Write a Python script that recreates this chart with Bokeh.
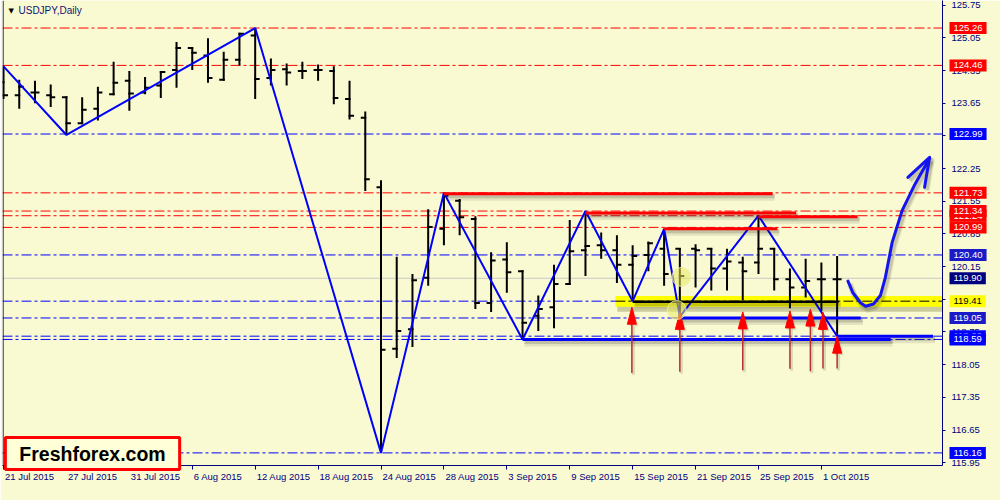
from bokeh.plotting import figure
from bokeh.models import FixedTicker, PrintfTickFormatter, Label, Span
from bokeh.embed import file_html
from bokeh.resources import INLINE

# ---------------- data ----------------
dates = ["2015-07-21", "2015-07-22", "2015-07-23", "2015-07-24", "2015-07-27", "2015-07-28",
         "2015-07-29", "2015-07-30", "2015-07-31", "2015-08-03", "2015-08-04", "2015-08-05",
         "2015-08-06", "2015-08-07", "2015-08-10", "2015-08-11", "2015-08-12", "2015-08-13",
         "2015-08-14", "2015-08-17", "2015-08-18", "2015-08-19", "2015-08-20", "2015-08-21",
         "2015-08-24", "2015-08-25", "2015-08-26", "2015-08-27", "2015-08-28", "2015-08-31",
         "2015-09-01", "2015-09-02", "2015-09-03", "2015-09-04", "2015-09-07", "2015-09-08",
         "2015-09-09", "2015-09-10", "2015-09-11", "2015-09-14", "2015-09-15", "2015-09-16",
         "2015-09-17", "2015-09-18", "2015-09-21", "2015-09-22", "2015-09-23", "2015-09-24",
         "2015-09-25", "2015-09-28", "2015-09-29", "2015-09-30", "2015-10-01", "2015-10-02"]

opens = [124.10, 123.82, 123.88, 123.82, 123.78, 123.22, 123.53, 123.84, 124.13, 123.88,
         124.03, 124.36, 124.83, 124.67, 124.15, 124.58, 125.10, 124.19, 124.38, 124.34,
         124.36, 124.34, 123.74, 123.34, 121.85, 118.39, 118.81, 119.91, 120.96, 121.56,
         121.17, 119.37, 120.30, 120.05, 119.10, 119.28, 119.78, 120.50, 120.61, 120.50,
         120.19, 120.40, 120.53, 120.53, 120.53, 120.53, 120.11, 120.24, 120.24, 120.53,
         119.88, 119.70, 119.88, 119.88]
highs = [124.44, 124.15, 124.13, 124.05, 123.80, 123.78, 124.00, 124.54, 124.34, 124.21,
         124.34, 124.96, 124.85, 125.04, 124.75, 125.16, 125.26, 124.61, 124.50, 124.54,
         124.48, 124.44, 124.13, 123.47, 122.00, 120.36, 119.99, 121.38, 121.73, 121.60,
         121.23, 120.46, 120.67, 120.07, 119.53, 120.19, 121.15, 121.34, 120.88, 120.82,
         120.61, 120.69, 120.96, 120.55, 120.63, 120.55, 120.53, 120.36, 121.24, 120.55,
         120.11, 120.32, 120.24, 120.38]
lows = [123.74, 123.53, 123.65, 123.57, 122.97, 123.20, 123.28, 123.82, 123.49, 123.84,
        123.76, 123.98, 124.36, 124.09, 124.13, 124.46, 123.74, 124.03, 124.03, 124.17,
        124.13, 123.63, 123.30, 121.77, 116.16, 118.19, 118.43, 119.74, 120.61, 120.82,
        119.24, 119.18, 119.59, 118.59, 118.77, 118.83, 119.76, 119.95, 120.32, 119.80,
        119.41, 120.05, 119.74, 119.08, 119.70, 119.64, 119.64, 119.43, 119.99, 119.64,
        119.26, 119.49, 119.20, 118.66]
closes = [123.82, 124.00, 123.88, 123.78, 123.22, 123.51, 123.88, 124.09, 123.86, 123.98,
          124.32, 124.83, 124.73, 124.19, 124.58, 125.14, 124.17, 124.36, 124.31, 124.34,
          124.36, 123.76, 123.38, 122.02, 118.37, 118.77, 119.86, 121.00, 121.67, 121.21,
          119.37, 120.28, 120.03, 118.95, 119.24, 119.78, 120.48, 120.59, 120.50, 120.19,
          120.38, 120.65, 119.99, 119.95, 120.50, 120.11, 120.26, 120.05, 120.53, 119.88,
          119.70, 119.84, 119.88, 119.88]

tick_bars = [0, 4, 8, 12, 16, 20, 24, 28, 32, 36, 40, 44, 48, 52]
tick_labels = ["21 Jul 2015", "27 Jul 2015", "31 Jul 2015", "6 Aug 2015", "12 Aug 2015",
               "18 Aug 2015", "24 Aug 2015", "28 Aug 2015", "3 Sep 2015", "9 Sep 2015",
               "15 Sep 2015", "21 Sep 2015", "25 Sep 2015", "1 Oct 2015"]
price_ticks = [115.95, 116.65, 117.35, 118.05, 118.75, 119.45, 120.15, 120.85,
               121.55, 122.25, 122.95, 123.65, 124.35, 125.05, 125.75]

level_prices = [125.26, 124.46, 122.99, 121.73, 121.24, 121.34, 120.99, 120.40,
                119.90, 119.41, 119.05, 118.66, 118.59, 116.16]
level_kinds = ["res", "res", "sup", "res", "res", "res", "res", "sup2",
               "bid", "band", "sup2", "sup", "sup", "sup"]

zz_bars = [0, 4, 16, 24, 28, 33, 37, 40, 42, 43, 48, 53]
zz_prices = [124.44, 122.97, 125.26, 116.16, 121.73, 118.59, 121.34, 119.41, 120.96, 119.08, 121.24, 118.66]

red_start = [28, 37, 48, 42]
red_end = [48.9, 50.4, 54.3, 49.2]
red_price = [121.71, 121.30, 121.22, 120.96]

blue_start = [33, 53, 43]
blue_end = [56.4, 59.1, 54.5]
blue_price = [118.59, 118.66, 119.05]

black_start = [40]
black_end = [53.1]
black_price = [119.40]

band_start = 38.9
band_low = 119.29
band_high = 119.52

arrow_bars = [39.95, 43.0, 47.0, 50.0, 51.3, 52.1, 53.0]
arrow_tips = [119.28, 119.17, 119.18, 119.20, 119.24, 119.17, 118.66]
arrow_bases = [117.87, 117.90, 117.93, 117.96, 117.91, 117.97, 117.97]

fc_bars = [53.69, 54.0, 54.5, 54.81, 55.31, 55.75, 56.06, 56.5, 57.13, 57.94, 58.88]
fc_prices = [119.84, 119.59, 119.37, 119.30, 119.35, 119.53, 119.91, 120.67, 121.35, 121.91, 122.47]
fc_head_bars = [57.5, 58.88, 58.56]
fc_head_prices = [122.06, 122.49, 121.85]

mark_bars = [43.1, 42.8]
mark_prices = [119.93, 119.22]

# ---------------- geometry / style ----------------
BG = "#FAFAD2"
NAVY = "#000080"
FONT = "Liberation Sans"
FRAME_W, FRAME_H = 940, 465
X_START, X_END = -0.065, 59.70
Y_START, Y_END = 115.89, 125.85
PXX = FRAME_W / (X_END - X_START)
PXY = FRAME_H / (Y_END - Y_START)


def dx(px):
    return px / PXX


def dy(px):
    return px / PXY


p = figure(frame_width=FRAME_W, frame_height=FRAME_H,
           x_range=(X_START, X_END), y_range=(Y_START, Y_END),
           output_backend="svg", toolbar_location=None,
           y_axis_location="right", x_axis_location="below",
           min_border_left=2, min_border_right=42, min_border_top=0, min_border_bottom=19,
           background_fill_color=BG, border_fill_color=BG, outline_line_color=None)
p.grid.visible = False

# x axis: minor ticks at bar dates, labels left-aligned via centre positions
cw = {"0": .556, "1": .556, "2": .556, "3": .556, "4": .556, "5": .556, "6": .556, "7": .556,
      "8": .556, "9": .556, " ": .278, "J": .5, "u": .556, "l": .222, "A": .667, "g": .556,
      "S": .667, "e": .556, "p": .556, "O": .778, "c": .5, "t": .278}
FS = 9.5
centres = []
for b, lab in zip(tick_bars, tick_labels):
    w = sum(cw.get(ch, .556) for ch in lab) * FS
    centres.append(round(b + dx(1.5 + w / 2), 4))
p.xaxis.ticker = FixedTicker(ticks=centres, minor_ticks=tick_bars)
p.xaxis.major_label_overrides = {c: lab for c, lab in zip(centres, tick_labels)}
p.xaxis.major_tick_line_color = None
p.xaxis.major_tick_out = 4
p.xaxis.major_tick_in = 0
p.xaxis.minor_tick_out = 4
p.xaxis.minor_tick_in = 0
p.xaxis.minor_tick_line_color = NAVY
p.xaxis.axis_line_color = NAVY
p.xaxis.major_label_standoff = 1
p.xaxis.major_label_text_font = FONT
p.xaxis.major_label_text_font_size = "9.5px"
p.xaxis.major_label_text_color = NAVY

p.yaxis.ticker = FixedTicker(ticks=price_ticks)
p.yaxis.formatter = PrintfTickFormatter(format="%.2f")
p.yaxis.axis_line_color = NAVY
p.yaxis.major_tick_line_color = NAVY
p.yaxis.major_tick_out = 3
p.yaxis.major_tick_in = 0
p.yaxis.minor_tick_line_color = None
p.yaxis.major_label_standoff = 6
p.yaxis.major_label_text_font = FONT
p.yaxis.major_label_text_font_size = "9.5px"
p.yaxis.major_label_text_color = NAVY

p.add_layout(Span(location=X_START + dx(0.6), dimension="height", line_color=NAVY, line_width=1))

line_style = {"res": ("#FF0000", "10 3 3 3"), "sup": ("#0000FF", "10 3 3 3"),
              "sup2": ("#0000FF", "10 3 3 3"), "band": ("#0000FF", "10 3 3 3"),
              "bid": ("#C8C8C8", "solid")}
label_style = {"res": ("#FF0000", "white"), "sup": ("#0000FF", "white"),
               "sup2": ("#1A1AC8", "white"), "band": ("#FFFF00", "black"),
               "bid": ("#000080", "white")}

# horizontal levels
for pr, k in zip(level_prices, level_kinds):
    col, dash = line_style[k]
    p.segment(X_START, pr, X_END, pr, line_color=col, line_width=1, line_dash=dash)

# yellow band with shadow
p.quad(left=band_start + dx(2), right=X_END + 1, bottom=band_low - dy(5), top=band_high - dy(3),
       fill_color="#404000", fill_alpha=0.25, line_color=None)
p.quad(left=band_start, right=X_END + 1, bottom=band_low, top=band_high,
       fill_color="#FFFF00", line_color=None)
p.segment(band_start, level_prices[9], X_END, level_prices[9], line_color="black",
          line_width=1, line_dash="10 3 3 3")

# OHLC bars
xs = list(range(len(opens)))
tk = dx(4.5)
p.segment(xs, lows, xs, highs, line_color="black", line_width=2)
p.segment([x - tk for x in xs], opens, [x + dx(1) for x in xs], opens, line_color="black", line_width=2)
p.segment([x - dx(1) for x in xs], closes, [x + tk for x in xs], closes, line_color="black", line_width=2)

# zigzag
p.line(zz_bars, zz_prices, line_color="#0000FF", line_width=2)


def shadowed_segments(x0, x1, y, color, width):
    for off, w, a in [(3.5, width + 4, 0.10), (2.5, width + 1, 0.18)]:
        p.segment([v + dx(2) for v in x0], [v - dy(off) for v in y],
                  [v + dx(2) for v in x1], [v - dy(off) for v in y],
                  line_color="#202020", line_alpha=a, line_width=w)
    p.segment(x0, y, x1, y, line_color=color, line_width=width)


shadowed_segments(red_start, red_end, red_price, "#FF0000", 3)
shadowed_segments(blue_start, blue_end, blue_price, "#0000FF", 3)
shadowed_segments(black_start, black_end, black_price, "black", 2.5)

# arrows
HL, HW = 17, 4.5
for xa, yt, yb in zip(arrow_bars, arrow_tips, arrow_bases):
    p.segment(xa + dx(1.5), yb - dy(2), xa + dx(1.5), yt - dy(HL) - dy(2),
              line_color="#202020", line_alpha=0.15, line_width=3)
    p.patch([xa - dx(HW) + dx(2), xa + dx(2), xa + dx(HW) + dx(2)],
            [yt - dy(HL) - dy(2), yt - dy(2), yt - dy(HL) - dy(2)],
            fill_color="#202020", fill_alpha=0.15, line_color=None)
    p.segment(xa, yb, xa, yt - dy(HL) + dy(1), line_color="#B83030", line_width=1.5)
    p.patch([xa - dx(HW), xa, xa + dx(HW)], [yt - dy(HL), yt, yt - dy(HL)],
            fill_color="#FF0000", line_color="#FF0000", line_width=1)

# forecast curve
for off, w, a in [(3.5, 6, 0.10), (2.5, 4, 0.15)]:
    p.line([v + dx(2) for v in fc_bars], [v - dy(off) for v in fc_prices],
           line_color="#202020", line_alpha=a, line_width=w, line_join="round")
    p.line([v + dx(2) for v in fc_head_bars], [v - dy(off) for v in fc_head_prices],
           line_color="#202020", line_alpha=a, line_width=w, line_join="round")
p.line(fc_bars, fc_prices, line_color="#1414F0", line_width=3, line_join="round", line_cap="round")
p.line(fc_head_bars, fc_head_prices, line_color="#1414F0", line_width=3, line_join="round", line_cap="round")

# highlight circles
p.scatter(mark_bars, mark_prices, size=19, fill_color="#E8E860", fill_alpha=0.55,
          line_color="#F0F0B0", line_alpha=0.8)

# price labels on the right scale (side panel: not clipped to the frame)
for pr, k in zip(level_prices, level_kinds):
    bg, fg = label_style[k]
    p.add_layout(Label(x=X_END, y=pr, x_offset=7, text="%.2f" % pr, text_font=FONT,
                       text_font_size="9.5px", text_color=fg, text_align="left",
                       text_baseline="middle", background_fill_color=bg,
                       padding=(4, 3)), "right")

# title
p.add_layout(Label(x=X_START + dx(6), y=Y_END - dy(10), text="\u25bc", text_font="DejaVu Sans",
                   text_font_size="7px", text_color="black", text_align="left",
                   text_baseline="middle"))
p.add_layout(Label(x=X_START + dx(16), y=Y_END - dy(10), text="USDJPY,Daily", text_font=FONT,
                   text_font_size="10px", text_color="#101070", text_align="left",
                   text_baseline="middle"))

# logo
lx = X_START + dx(90)
ly = Y_END - dy(453)
p.add_layout(Label(x=lx, y=ly, x_offset=4, y_offset=-4, text="Freshforex.com", text_font=FONT,
                   text_font_size="19.5px", text_font_style="bold", text_alpha=0,
                   text_align="center", text_baseline="middle",
                   background_fill_color="#303030", background_fill_alpha=0.3, padding=(16, 6)),
             "below")
p.add_layout(Label(x=lx, y=ly, text="Freshforex.com", text_font=FONT,
                   text_font_size="19.5px", text_font_style="bold", text_color="black",
                   text_align="center", text_baseline="middle",
                   background_fill_color="#FFFFD8", border_line_color="#FF0000",
                   border_line_width=3, padding=(14, 5)), "below")

open("out.html", "w").write(file_html(p, INLINE))
